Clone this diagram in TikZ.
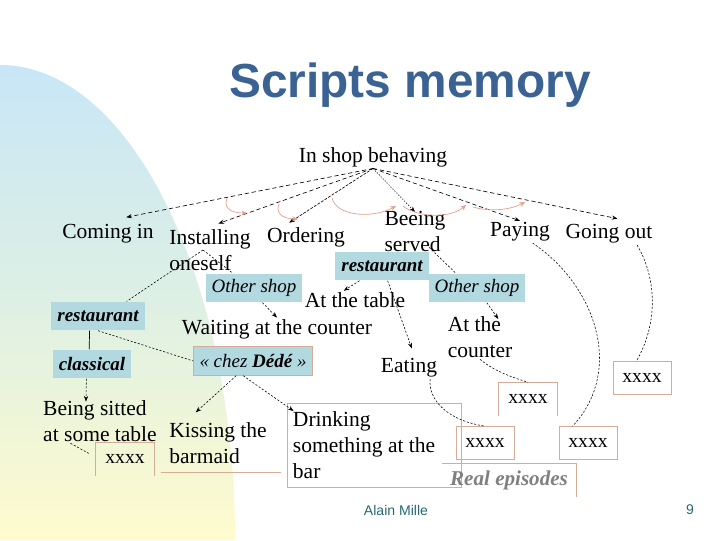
\documentclass[tikz,border=0pt]{standalone}
\usepackage{fontspec}
\setmainfont{Liberation Serif}
\setsansfont{Liberation Sans}
\usetikzlibrary{arrows.meta,positioning,calc}
\definecolor{TitleBlue}{RGB}{58,99,148}
\definecolor{TagBlue}{RGB}{178,216,224}
\definecolor{Tan}{RGB}{214,172,152}
\definecolor{Salmon}{RGB}{228,160,140}
\definecolor{SkyBg}{RGB}{200,230,247}
\definecolor{MintBg}{RGB}{222,240,228}
\definecolor{CreamBg}{RGB}{255,251,205}
\definecolor{FootTeal}{RGB}{40,105,115}
\newcommand{\tagit}[1]{{\bfseries\itshape #1}}
\tikzset{
  act/.style={font=\fontsize{15.3}{18.5}\selectfont, inner sep=1pt, align=left},
  tagbox/.style={rectangle, fill=TagBlue, font=\fontsize{13.5}{16}\selectfont\itshape,
                 minimum height=.72cm, inner xsep=.15cm, inner ysep=1pt},
  epibox/.style={rectangle, font=\fontsize{14}{16}\selectfont, minimum width=1.45cm,
                 minimum height=.82cm, inner sep=0pt},
  tanline/.style={draw=Tan, line width=.6pt},
  dlink/.style={-{Stealth[length=4pt,width=3pt]}, dash pattern=on 3pt off 2pt, line width=.45pt},
  flink/.style={dash pattern=on 1.5pt off 1.2pt, line width=.4pt},
  farr/.style={flink, -{Stealth[length=4pt,width=3pt]}},
  seqarr/.style={-{Stealth[length=4pt,width=3.5pt]}, Salmon, line width=.5pt},
}

\begin{document}
\begin{tikzpicture}[x=0.025cm, y=-0.025cm]
  \useasboundingbox (0,0) rectangle (720,540);
  % background
  \shade[top color=SkyBg, bottom color=CreamBg, middle color=MintBg]
    (0,540) -- (0,65) .. controls (130,65) and (235,278) .. (235,540) -- cycle;

  \node[font=\sffamily\bfseries\fontsize{34}{40}\selectfont, text=TitleBlue] (title) at (410,85) {Scripts memory};

  % script steps
  \node[act] (shop) at (373,157) {In shop behaving};
  \node[act] (comin) at (108,234) {Coming in};
  \node[act] (install) at (210,250) {Installing\\oneself};
  \node[act] (order) at (306,237) {Ordering};
  \node[act] (served) at (415,231) {Beeing\\served};
  \node[act] (pay) at (520,232) {Paying};
  \node[act] (gout) at (609,234) {Going out};

  % contexts
  \node[tagbox] (restM) at (382,266) {\tagit{restaurant}};
  \node[tagbox] (shopL) at (254,288) {Other shop};
  \node[tagbox] (shopR) at (477,288) {Other shop};
  \node[tagbox] (restL) at (98,316) {\tagit{restaurant}};
  \node[tagbox] (classic) at (92,364) {\tagit{classical}};
  \node[tagbox, draw=Tan] (dede) at (253,361) {«~chez \textbf{Dédé}~»};

  \node[act] (table) at (355,300) {At the table};
  \node[act] (wait) at (277,329) {Waiting at the counter};
  \node[act] (counter) at (480,337) {At the\\counter};
  \node[act] (eat) at (409,368) {Eating};
  \node[act] (sitted) at (100,421) {Being sitted\\at some table};
  \node[act] (kiss) at (218,443) {Kissing the\\barmaid};
  \node[act, align=flush left, tanline, minimum width=4.35cm, minimum height=2.1cm, text width=4.05cm]
    (drink) at (374,445) {Drinking\\something at the\\bar};

  % episodes
  \node[epibox] (x1) at (125,459) {xxxx};
  \draw[tanline] (x1.south west) -- (x1.north west) -- (x1.north east) -- (x1.south east);
  \node[epibox] (x2) at (528,399) {xxxx};
  \draw[tanline] (x2.south west) -- (x2.north west) -- (x2.north east) -- (x2.south east);
  \node[epibox, tanline] (x3) at (485,443) {xxxx};
  \node[epibox, tanline] (x4) at (588,443) {xxxx};
  \node[epibox, tanline] (x5) at (642,378) {xxxx};
  \draw[tanline] ([xshift=-5pt,yshift=-5pt]kiss.south west) -- ([xshift=9pt,yshift=-5pt]kiss.south east);

  \node[font=\fontsize{15}{18}\selectfont\bfseries\itshape, text=gray, inner xsep=5.8pt,
        minimum height=.82cm] (real) at (509,480) {Real episodes};
  \draw[tanline] (real.north west) -| (real.south east);

  % script links
  \draw[dlink] (shop.south) -- ([xshift=13pt,yshift=4pt]comin.north);
  \draw[dlink] (shop.south) -- ([xshift=6pt,yshift=3pt]install.north);
  \draw[dlink, dash pattern=on 2pt off 1pt] (shop.south) -- ([xshift=-12pt,yshift=2pt]order.north);
  \draw[dlink, dash pattern=on .8pt off 1.2pt] (shop.south) -- ([yshift=-2pt]served.north);
  \draw[dlink] (shop.south) -- (pay.north);
  \draw[dlink] (shop.south) -- ([xshift=6pt,yshift=3pt]gout.north);

  % sequence
  \draw[seqarr] (227,198) .. controls (222,211) and (236,213) .. (247,213);
  \draw[seqarr] (279,204) .. controls (274,216) and (288,219) .. (298,219);
  \draw[seqarr] (332,198) .. controls (336,216) and (372,219) .. (396,206);
  \draw[seqarr] (403,206) .. controls (416,217) and (450,219) .. (466,205);
  \draw[seqarr] (473,207) .. controls (490,212) and (510,210) .. (525,202);

  % specialisations
  \draw[flink] ([xshift=-5pt]install.center) -- ([xshift=-13pt]restL.north east);
  \draw[flink] ([xshift=-5pt]install.center) -- ([xshift=-15pt]shopL.north);
  \draw[farr] ([xshift=6pt]shopL.south) -- (wait.north);
  \draw[farr] ([xshift=-16pt]restM.south) -- ([xshift=-8pt]table.north);
  \draw[farr] ([xshift=4pt]restM.south) -- ([xshift=2pt,yshift=6pt]eat.north);
  \draw[flink] ([xshift=10pt,yshift=4pt]served.south) -- ([xshift=-15pt]shopR.north);
  \draw[farr] ([xshift=7pt]shopR.south) -- ([xshift=13pt,yshift=-3pt]counter.north);
  \draw[line width=.5pt] ([xshift=-6pt]restL.south) -- ([xshift=-2pt]classic.north);
  \draw[flink] (restL.south) -- (dede.west);
  \draw[farr] ([xshift=-4pt]classic.south) -- ([xshift=-10pt,yshift=-2pt]sitted.north);
  \draw[farr] ([xshift=-12pt]dede.south) -- ([xshift=20pt,yshift=6pt]kiss.north west);
  \draw[farr] ([xshift=-7pt]dede.south) -- ([xshift=5pt,yshift=-6pt]drink.north west);

  % to episodes
  \draw[flink] ([xshift=-21pt]sitted.south) -- ([xshift=-5pt,yshift=4pt]x1.west);
  \draw[flink] (counter.south) .. controls (495,372) and (515,378) .. (x2.north);
  \draw[flink] ([xshift=15pt]eat.south) .. controls (428,398) and (445,420) .. (x3.north);
  \draw[flink] ([xshift=9pt]pay.south) .. controls (595,285) and (625,370) .. ([xshift=-11pt]x4.north);
  \draw[flink] ([xshift=20pt]gout.south) .. controls (655,275) and (660,320) .. ([xshift=-4pt]x5.north);

  \node[font=\sffamily\fontsize{10}{12}\selectfont, text=FootTeal] (author) at (396,510) {Alain Mille};
  \node[font=\sffamily\fontsize{10}{12}\selectfont, text=FootTeal] (page) at (690,510) {9};
\end{tikzpicture}
\end{document}
